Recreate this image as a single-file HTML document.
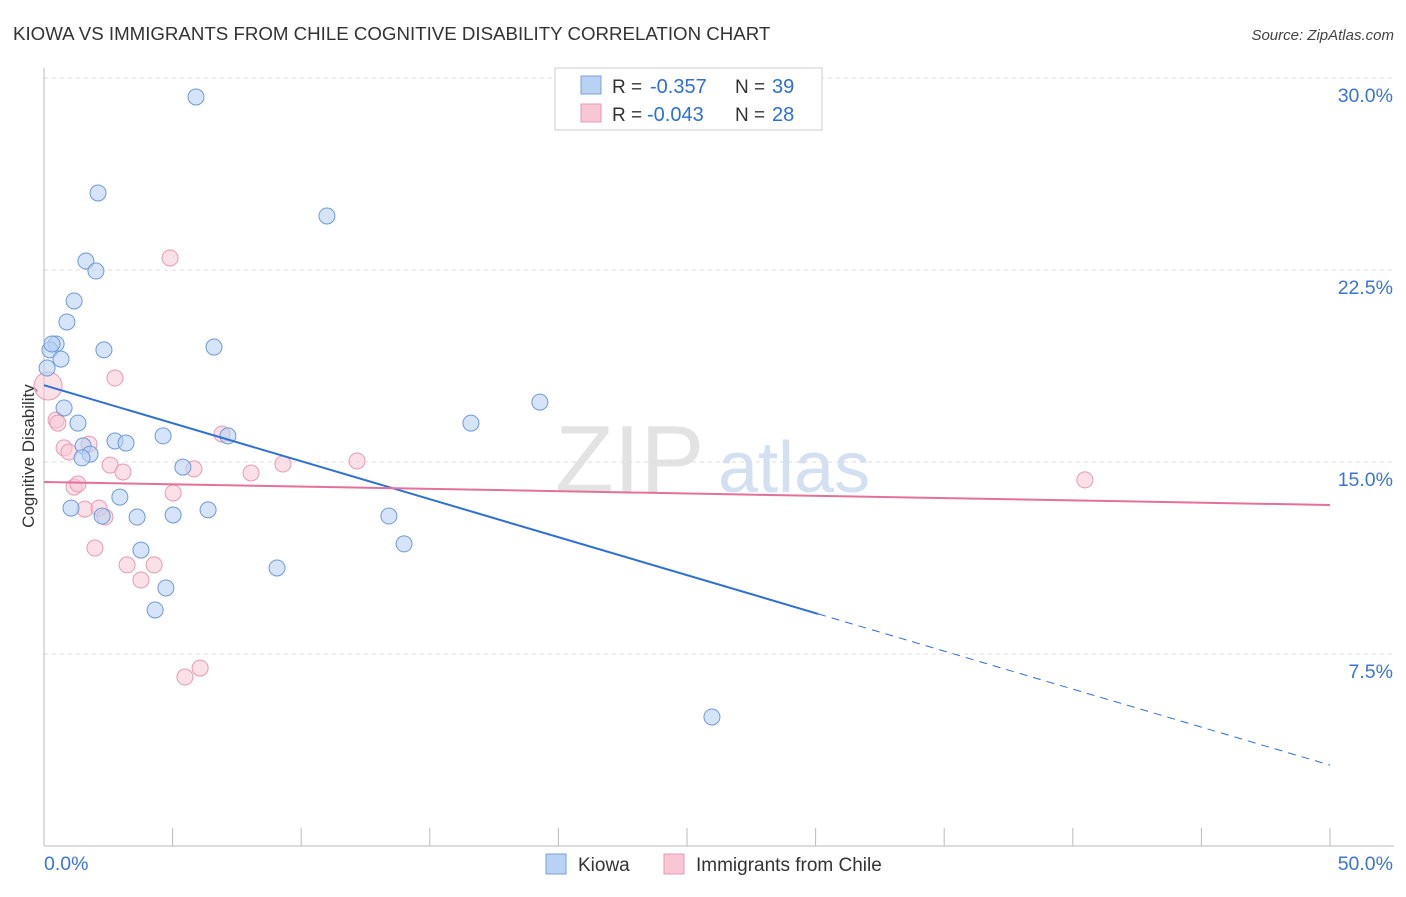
<!DOCTYPE html>
<html><head><meta charset="utf-8"><style>
body{margin:0;background:#fff;font-family:"Liberation Sans",sans-serif}
svg text{font-family:"Liberation Sans",sans-serif}
</style></head><body>
<svg id="chart" width="1406" height="892" xmlns="http://www.w3.org/2000/svg">
<text x="13" y="40" font-size="18.7" fill="#333">KIOWA VS IMMIGRANTS FROM CHILE COGNITIVE DISABILITY CORRELATION CHART</text>
<text x="1394" y="40" font-size="15" fill="#444" text-anchor="end" font-style="italic">Source: ZipAtlas.com</text>
<text x="555" y="492" font-size="96" fill="#e3e3e3" font-family="Liberation Serif">ZIP</text>
<text x="718" y="492" font-size="72" fill="#d3e0f1">atlas</text>
<text transform="translate(34,456) rotate(-90)" font-size="17" fill="#333" text-anchor="middle">Cognitive Disability</text>
<g id="grid"></g><g id="axes"></g><g id="marks"></g>
<g>
<rect x="555" y="68" width="267" height="62" fill="#fff" stroke="#ccc"/>
<rect x="581" y="76" width="20" height="18" fill="#b9d2f3" stroke="#7aa3da"/>
<rect x="581" y="104" width="20" height="18" fill="#f8c7d6" stroke="#e79ab3"/>
<text x="612" y="93" font-size="19" fill="#333">R =</text>
<text x="650" y="93" font-size="20" fill="#2f6fd6">-0.357</text>
<text x="735" y="93" font-size="19" fill="#333">N =</text>
<text x="772" y="93" font-size="20" fill="#2f6fd6">39</text>
<text x="612" y="121" font-size="19" fill="#333">R =</text>
<text x="647" y="121" font-size="20" fill="#2f6fd6">-0.043</text>
<text x="735" y="121" font-size="19" fill="#333">N =</text>
<text x="772" y="121" font-size="20" fill="#2f6fd6">28</text>
</g>
<g>
<rect x="546" y="854" width="20" height="20" fill="#b9d2f3" stroke="#7aa3da"/>
<text x="578" y="871" font-size="19" fill="#333">Kiowa</text>
<rect x="664" y="854" width="20" height="20" fill="#f8c7d6" stroke="#e79ab3"/>
<text x="696" y="871" font-size="19" fill="#333">Immigrants from Chile</text>
</g>
</svg>
<script>
const yTicks=[7.5,15,22.5,30];
const yTickLabels=["7.5%","15.0%","22.5%","30.0%"];
const kiowaX=[5.91,2.10,11.00,1.63,2.02,1.17,0.89,0.47,0.23,2.33,6.61,0.66,0.12,0.78,1.32,19.28,16.60,4.63,7.15,2.76,3.19,1.52,1.79,1.48,5.40,2.95,1.05,2.26,3.62,5.02,6.38,13.41,14.00,3.77,9.06,4.74,4.32,25.97,0.31];
const kiowaY=[29.26,25.51,24.61,22.85,22.46,21.29,20.47,19.61,19.38,19.38,19.49,19.02,18.67,17.11,16.52,17.34,16.52,16.02,16.02,15.82,15.74,15.63,15.31,15.16,14.80,13.63,13.20,12.89,12.85,12.93,13.13,12.89,11.80,11.56,10.86,10.08,9.22,5.04,19.61];
const chileX=[4.90,2.76,0.16,0.47,0.54,0.78,1.75,0.97,6.92,2.57,3.07,5.83,8.05,9.29,12.17,40.47,1.17,1.32,5.02,1.59,2.14,2.37,1.98,3.23,4.28,3.77,6.07,5.48];
const chileY=[22.97,18.28,17.97,16.64,16.52,15.55,15.70,15.39,16.09,14.88,14.61,14.73,14.57,14.92,15.04,14.30,14.02,14.14,13.79,13.16,13.20,12.85,11.64,10.98,10.98,10.39,6.95,6.60];
const kiowaTrend=[18.0,3.16];const kiowaSolidEnd=30.1;
const chileTrend=[14.22,13.32];
const NS="http://www.w3.org/2000/svg";
const xs=v=>44+v/50*1286, ys=v=>846-v/7.5*192;
function mk(t,a,p){const e=document.createElementNS(NS,t);for(const k in a)e.setAttribute(k,a[k]);p.appendChild(e);return e;}
const grid=document.getElementById('grid'),axes=document.getElementById('axes'),marks=document.getElementById('marks');
yTicks.forEach((t,i)=>{
 const l=mk('line',{x1:44,x2:1394,y1:ys(t),y2:ys(t),stroke:'#ddd','stroke-dasharray':'4 4'},grid);
 
 
 const tx=mk('text',{x:1393,y:ys(t)+24,'font-size':19.5,fill:'#3a74d8','text-anchor':'end'},grid);
 tx.textContent=yTickLabels[i];
 
 
});
mk('line',{x1:44,x2:44,y1:68,y2:846,stroke:'#bbb'},axes);
mk('line',{x1:44,x2:1394,y1:846,y2:846,stroke:'#bbb'},axes);
for(let v=5;v<=50;v+=5){const t=mk('line',{x1:xs(v),x2:xs(v),y1:828,y2:846,stroke:'#bbb'},axes);
 
 }
const x0=mk('text',{x:44,y:870,'font-size':19.5,fill:'#3a74d8'},axes);x0.textContent='0.0%';


const x1=mk('text',{x:1393,y:870,'font-size':19.5,fill:'#3a74d8','text-anchor':'end'},axes);x1.textContent='50.0%';


chileX.forEach((x,i)=>{const c=mk('circle',{cx:xs(x),cy:ys(chileY[i]),r:i==2?14:8,fill:'#f8c7d6','fill-opacity':0.55,stroke:'#e89ab3','stroke-width':1},marks);
 
 });
kiowaX.forEach((x,i)=>{const c=mk('circle',{cx:xs(x),cy:ys(kiowaY[i]),r:8,fill:'#b9d2f3','fill-opacity':0.6,stroke:'#6f9ad6','stroke-width':1},marks);
 
 });
const ky=v=>kiowaTrend[0]+(kiowaTrend[1]-kiowaTrend[0])*v/50;
const kl=mk('line',{x1:xs(0),y1:ys(ky(0)),x2:xs(kiowaSolidEnd),y2:ys(ky(kiowaSolidEnd)),stroke:'#2f6fd6','stroke-width':2},marks);


const kd=mk('line',{x1:xs(kiowaSolidEnd),y1:ys(ky(kiowaSolidEnd)),x2:xs(50),y2:ys(ky(50)),stroke:'#2f6fd6','stroke-width':1,'stroke-dasharray':'8 6'},marks);


const cl=mk('line',{x1:xs(0),y1:ys(chileTrend[0]),x2:xs(50),y2:ys(chileTrend[1]),stroke:'#e5709a','stroke-width':2},marks);


</script>
</body></html>
